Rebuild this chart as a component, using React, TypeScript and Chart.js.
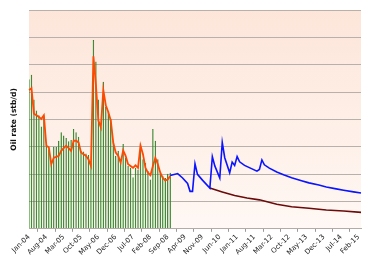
import React, { useEffect, useRef } from "react";
import { Chart, registerables } from "chart.js";

Chart.register(...registerables);

const MONTHS = ["Jan", "Feb", "Mar", "Apr", "May", "Jun", "Jul", "Aug", "Sep", "Oct", "Nov", "Dec"];
// Monthly categories Jan-04 .. Mar-15
const CATEGORIES: string[] = [];
for (let y = 4; y <= 15; y++) {
  for (let m = 0; m < 12; m++) {
    if (y === 15 && m > 2) break;
    CATEGORIES.push(`${MONTHS[m]}-${String(y).padStart(2, "0")}`);
  }
}

const TICK_LABELS = [
  "Jan-04", "Aug-04", "Mar-05", "Oct-05", "May-06", "Dec-06", "Jul-07", "Feb-08", "Sep-08", "Apr-09",
  "Nov-09", "Jun-10", "Jan-11", "Aug-11", "Mar-12", "Oct-12", "May-13", "Dec-13", "Jul-14", "Feb-15",
];

// Historical monthly oil rate (bars), Jan-04 .. Oct-08
const HIST_RATE = [
  547, 563, 473, 433, 415, 374, 415, 304, 291, 248,
  300, 300, 322, 353, 341, 332, 320, 325, 365, 353,
  337, 285, 283, 275, 270, 242, 690, 612, 473, 371,
  538, 446, 427, 402, 322, 267, 285, 242, 310, 260,
  230, 223, 189, 223, 217, 312, 254, 242, 211, 180,
  365, 322, 254, 205, 193, 186, 201, 205,
];

// Smoothed history (orange line)
const HIST_SMOOTH = [
  507, 514, 421, 415, 409, 402, 415, 304, 298, 236,
  260, 263, 267, 285, 295, 304, 295, 285, 322, 322,
  316, 279, 273, 267, 254, 230, 631, 526, 396, 371,
  507, 452, 427, 396, 316, 279, 267, 242, 287, 267,
  236, 230, 223, 232, 223, 304, 273, 223, 205, 196,
  230, 260, 236, 205, 186, 177, 180, 193,
];

// Forecast (blue line)
const FORECAST_DATES = [
  "Oct-08", "Jan-09", "Mar-09", "May-09", "Jun-09", "Jul-09", "Aug-09", "Sep-09", "Nov-09", "Feb-10",
  "Mar-10", "Apr-10", "Jun-10", "Jul-10", "Aug-10", "Oct-10", "Nov-10", "Dec-10", "Jan-11", "Feb-11",
  "Apr-11", "Sep-11", "Oct-11", "Nov-11", "Dec-11", "Feb-12", "May-12", "Aug-12", "Nov-12", "Mar-13",
  "Jun-13", "Oct-13", "Jan-14", "May-14", "Aug-14", "Dec-14", "Mar-15",
];
const FORECAST_RATE = [
  195, 202, 186, 166, 137, 137, 238, 199, 178, 149,
  264, 230, 186, 316, 260, 205, 244, 232, 264, 245,
  232, 211, 217, 252, 234, 222, 208, 197, 187, 176,
  168, 160, 153, 146, 141, 135, 131,
];

// Base decline (dark red line)
const BASE_DATES = ["Feb-10", "Jul-10", "Dec-10", "May-11", "Oct-11", "May-12", "Nov-12", "Jun-13", "Jan-14", "Aug-14", "Mar-15"];
const BASE_RATE = [149, 135, 122, 113, 106, 90, 81, 75, 69, 65, 60];

const bgPlugin = {
  id: "plotBg",
  beforeDraw(chart: any) {
    const { ctx, chartArea } = chart;
    if (!chartArea) return;
    const { left, top, right, bottom } = chartArea;
    const g = ctx.createLinearGradient(0, top, 0, bottom);
    g.addColorStop(0, "#fde5d9");
    g.addColorStop(1, "#fff8f4");
    ctx.save();
    ctx.fillStyle = g;
    ctx.fillRect(left, top, right - left, bottom - top);
    ctx.restore();
  },
};

export default function App() {
  const ref = useRef<HTMLCanvasElement>(null);
  useEffect(() => {
    document.body.style.margin = "0";
    const canvas = ref.current;
    if (!canvas) return;
    const chart = new Chart(canvas, {
      type: "bar",
      data: {
        labels: CATEGORIES,
        datasets: [
          {
            type: "line",
            label: "Smoothed",
            data: HIST_SMOOTH,
            borderColor: "#ff4800",
            borderWidth: 1.8,
            pointRadius: 0,
            tension: 0,
            order: 1,
          },
          {
            type: "line",
            label: "Forecast",
            data: FORECAST_DATES.map((d, i) => ({ x: d, y: FORECAST_RATE[i] })),
            borderColor: "#0a14ff",
            borderWidth: 1.6,
            pointRadius: 0,
            tension: 0,
            order: 1,
          },
          {
            type: "line",
            label: "Base",
            data: BASE_DATES.map((d, i) => ({ x: d, y: BASE_RATE[i] })),
            borderColor: "#6a0a0a",
            borderWidth: 1.6,
            pointRadius: 0,
            tension: 0,
            order: 1,
          },
          {
            type: "bar",
            label: "Oil rate",
            data: HIST_RATE,
            backgroundColor: "rgba(95,165,75,0.55)",
            borderColor: "#2f8026",
            borderWidth: 0.7,
            barPercentage: 0.6,
            categoryPercentage: 1,
            order: 2,
          },
        ],
      } as any,
      options: {
        animation: false,
        responsive: true,
        maintainAspectRatio: false,
        layout: { padding: { top: 10, right: 9, left: 8, bottom: 4 } },
        plugins: { legend: { display: false }, tooltip: { enabled: false } },
        scales: {
          x: {
            type: "category",
            offset: false,
            grid: { display: true, drawOnChartArea: false, drawTicks: true, tickLength: 3, color: "#9a9a9a" },
            border: { display: true, color: "#b3aba5" },
            afterBuildTicks: (scale: any) => {
              scale.ticks = scale.ticks.filter((t: any) => TICK_LABELS.includes(CATEGORIES[t.value]));
            },
            ticks: {
              autoSkip: false,
              maxRotation: 45,
              minRotation: 45,
              padding: 1,
              color: "#222",
              font: { family: "DejaVu Sans", size: 7 },
            },
          },
          y: {
            min: 0,
            max: 800,
            ticks: { display: false, stepSize: 100 },
            grid: { color: "#b8b0aa", lineWidth: 1, drawTicks: false },
            border: { display: false },
            title: {
              display: true,
              text: "Oil rate (stb/d)",
              color: "#111",
              font: { family: "DejaVu Sans", size: 7.5, weight: "bold" },
              padding: { top: 2, bottom: 10 },
            },
          },
        },
      },
      plugins: [bgPlugin],
    });
    return () => chart.destroy();
  }, []);
  return (
    <div style={{ width: 370, height: 262, position: "relative" }}>
      <canvas ref={ref} />
    </div>
  );
}
